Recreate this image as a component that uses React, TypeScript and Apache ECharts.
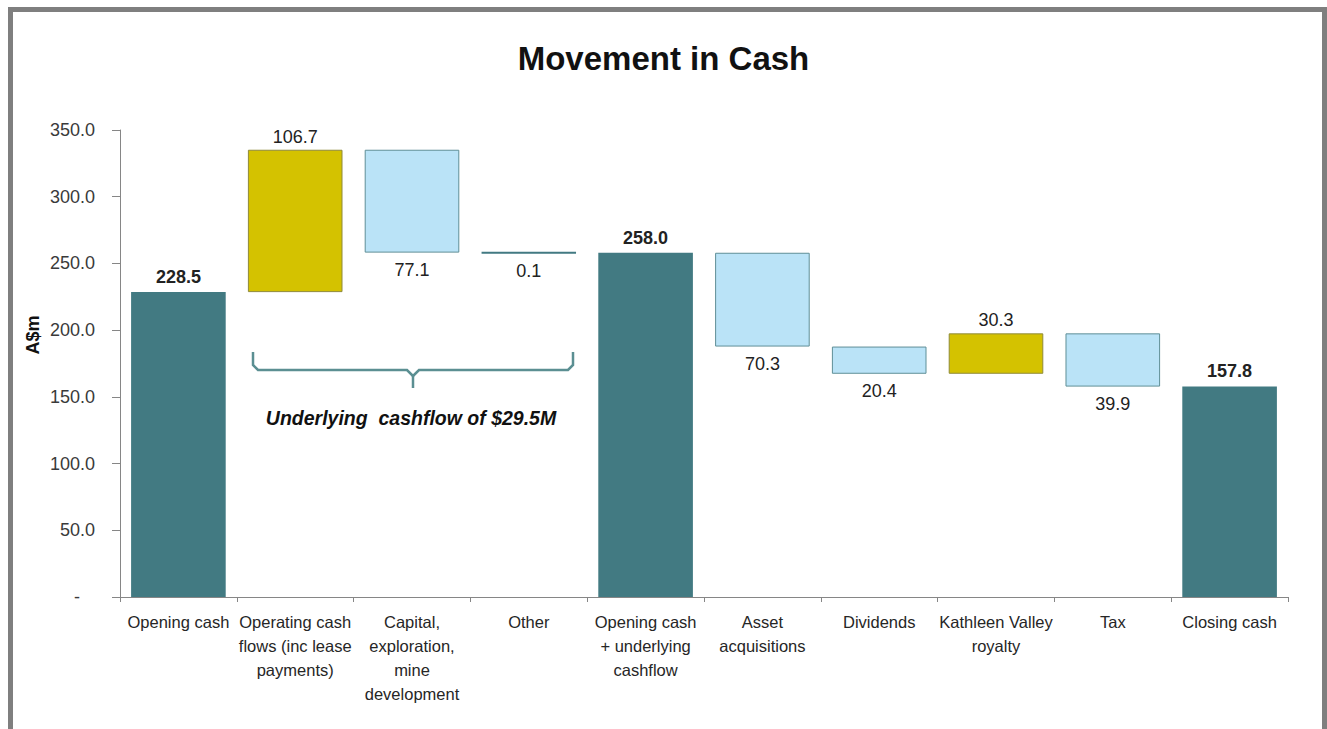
import React, { useEffect, useRef } from "react";
import * as echarts from "echarts";

const categories: string[] = [
  "Opening cash",
  "Operating cash\nflows (inc lease\npayments)",
  "Capital,\nexploration,\nmine\ndevelopment",
  "Other",
  "Opening cash\n+ underlying\ncashflow",
  "Asset\nacquisitions",
  "Dividends",
  "Kathleen Valley\nroyalty",
  "Tax",
  "Closing cash",
];
const totals: (number | null)[] = [228.5, null, null, null, 258.0, null, null, null, null, 157.8];
const changes: (number | null)[] = [null, 106.7, -77.1, -0.1, null, -70.3, -20.4, 30.3, -39.9, null];
const yMin = 0;
const yMax = 350;
const yInterval = 50;
const titleText = "Movement in Cash";
const axisName = "A$m";
const noteText = "Underlying  cashflow of $29.5M";

const TEAL = "#427a82";
const YELLOW = "#d4c200";
const LIGHT = "#bae3f7";
const LABEL_COLOR = "#222222";
const FONT = "'Liberation Sans', Arial, sans-serif";

function buildData() {
  const base: number[] = [];
  const items: any[] = [];
  let running = 0;
  for (let i = 0; i < categories.length; i++) {
    const t = totals[i];
    if (t !== null) {
      running = t;
      base.push(0);
      items.push({
        value: t,
        itemStyle: { color: TEAL },
        label: { position: "top", fontWeight: "bold", distance: 6 },
      });
    } else {
      const c = changes[i] as number;
      if (c >= 0) {
        base.push(running);
        running += c;
        items.push({
          value: c,
          itemStyle: { color: YELLOW, borderColor: "#8f8a3a", borderWidth: 1 },
          label: { position: "top", distance: 4 },
        });
      } else {
        running += c;
        base.push(running);
        const tiny = Math.abs(c) < 1;
        items.push({
          value: -c,
          itemStyle: tiny
            ? { color: TEAL, borderColor: TEAL, borderWidth: 2 }
            : { color: LIGHT, borderColor: "#5f8f97", borderWidth: 1 },
          label: { position: "bottom", distance: 8 },
        });
      }
    }
  }
  return { base, items };
}

export default function App() {
  const ref = useRef<HTMLDivElement>(null);
  useEffect(() => {
    if (!ref.current) return;
    const chart = echarts.init(ref.current, null, { renderer: "svg" });
    const { base, items } = buildData();
    chart.setOption({
      animation: false,
      backgroundColor: "#ffffff",
      title: {
        text: titleText,
        left: "center",
        top: 37,
        textStyle: { fontFamily: FONT, fontSize: 33, fontWeight: "bold", color: "#111111" },
      },
      grid: { left: 120, right: 39, top: 130, bottom: 132, containLabel: false },
      xAxis: {
        type: "category",
        data: categories,
        axisLine: { lineStyle: { color: "#868686", width: 1 } },
        axisTick: { show: true, length: 5, lineStyle: { color: "#868686" }, interval: 0 },
        axisLabel: {
          interval: 0,
          margin: 13,
          fontFamily: FONT,
          fontSize: 16.5,
          lineHeight: 24,
          color: "#262626",
          align: "center",
        },
      },
      yAxis: {
        type: "value",
        min: yMin,
        max: yMax,
        interval: yInterval,
        splitLine: { show: false },
        axisLine: { show: true, lineStyle: { color: "#868686", width: 1 } },
        axisTick: { show: true, length: 8, lineStyle: { color: "#868686" } },
        axisLabel: {
          margin: 25,
          fontFamily: FONT,
          fontSize: 18,
          color: "#3a3a3a",
          formatter: (v: number) => (v === 0 ? "-   " : v.toFixed(1)),
        },
      },
      series: [
        {
          name: "base",
          type: "bar",
          stack: "wf",
          barWidth: "81%",
          silent: true,
          itemStyle: { color: "rgba(0,0,0,0)" },
          data: base,
        },
        {
          name: "value",
          type: "bar",
          stack: "wf",
          barWidth: "81%",
          label: {
            show: true,
            fontFamily: FONT,
            fontSize: 18,
            color: LABEL_COLOR,
            formatter: (p: any) => Number(p.value).toFixed(1),
          },
          data: items,
        },
      ],
      graphic: [
        {
          type: "text",
          x: 33,
          y: 335,
          rotation: Math.PI / 2,
          style: {
            text: axisName,
            fontFamily: FONT,
            fontSize: 18,
            fontWeight: "bold",
            fill: "#111111",
            align: "center",
            verticalAlign: "middle",
          },
        },
        {
          type: "polyline",
          shape: { points: [[253, 352], [253, 365], [258, 370], [407, 370], [413, 376]] },
          style: { stroke: "#5b8f92", lineWidth: 2.5, fill: "none" },
        },
        {
          type: "polyline",
          shape: { points: [[573, 352], [573, 365], [568, 370], [419, 370], [413, 376]] },
          style: { stroke: "#5b8f92", lineWidth: 2.5, fill: "none" },
        },
        {
          type: "line",
          shape: { x1: 413, y1: 375, x2: 413, y2: 388 },
          style: { stroke: "#5b8f92", lineWidth: 2.5 },
        },
        {
          type: "text",
          x: 411,
          y: 418,
          style: {
            text: noteText,
            fontFamily: FONT,
            fontSize: 19.5,
            fontWeight: "bold",
            fontStyle: "italic",
            fill: "#111111",
            align: "center",
            verticalAlign: "middle",
          },
        },
      ],
    });
    return () => chart.dispose();
  }, []);

  return (
    <div style={{ position: "fixed", left: 0, top: 0, width: 1327, height: 729, overflow: "hidden", background: "#fff" }}>
      <div ref={ref} style={{ position: "absolute", left: 0, top: 0, width: 1327, height: 729 }} />
      <div
        style={{
          position: "absolute",
          left: 8,
          top: 7,
          width: 1309,
          height: 740,
          borderTop: "5px solid #7f7f7f",
          borderLeft: "5px solid #7f7f7f",
          borderRight: "5px solid #7f7f7f",
          pointerEvents: "none",
        }}
      />
    </div>
  );
}
